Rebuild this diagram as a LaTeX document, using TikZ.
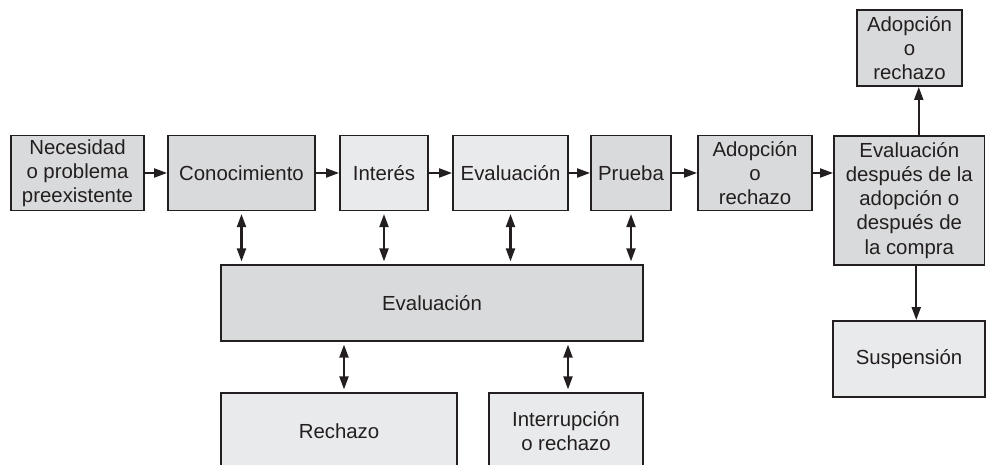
\documentclass[tikz,border=0pt]{standalone}
\usepackage{fontspec}
\setmainfont{Liberation Sans}
\usetikzlibrary{arrows.meta, positioning}
\definecolor{BoxLine}{HTML}{231F20}
\definecolor{BoxDark}{HTML}{D9DADB}
\definecolor{BoxLight}{HTML}{E9EAEB}
\tikzset{
    % Box styles with sharp corners
    component/.style={
        rectangle,
        draw=BoxLine,
        line width=1.1pt,
        text=BoxLine,
        inner sep=0pt,
        minimum height=1.5cm,
        align=center,
        font=\fontsize{11.6}{13.7}\selectfont
    },
    component dark/.style={
        component,
        fill=BoxDark
    },
    component light/.style={
        component,
        fill=BoxLight
    },
    arrow style/.style={
        -{Triangle[length=0.26cm, width=0.18cm]},
        line width=1.15pt,
        BoxLine
    },
    biarrow style/.style={
        {Triangle[length=0.26cm, width=0.18cm]}-{Triangle[length=0.26cm, width=0.18cm]},
        line width=1.15pt,
        shorten <=1.5pt,
        shorten >=1.5pt,
        BoxLine
    }
}
\begin{document}
\begin{tikzpicture}[x=0.02cm, y=-0.02cm]
        \useasboundingbox (0,0) rectangle (986,465);
        \clip (0,0) rectangle (986,465);

        % Top row
        \node[component dark, minimum width=2.66cm] (need) at (77.5,173) {
            Necesidad\\
            o problema\\
            preexistente
        };
        \node[component dark, minimum width=2.94cm] (conoc) at (241.5,173) {Conocimiento};
        \node[component light, minimum width=1.76cm] (interes) at (384,173) {Interés};
        \node[component light, minimum width=2.3cm] (evaltop) at (510.5,173) {Evaluación};
        \node[component dark, minimum width=1.6cm] (prueba) at (631,173) {Prueba};
        \node[component dark, minimum width=2.28cm] (adop) at (755,173) {
            Adopción\\
            o\\
            rechazo
        };
        \node[component dark, minimum width=3.01cm, minimum height=2.58cm] (post) at (909.25,200.5) {
            Evaluación\\
            después de la\\
            adopción o\\
            después de\\
            la compra
        };

        % Right column
        \node[component dark, minimum width=2.1cm, minimum height=1.52cm] (adoptop) at (909.5,48) {
            Adopción\\
            o\\
            rechazo
        };
        \node[component light, minimum width=3.03cm, minimum height=1.52cm] (susp) at (909,359) {Suspensión};

        % Evaluation band and outcomes
        \node[component dark, minimum width=8.44cm, minimum height=1.52cm] (evalbig) at (432,303) {Evaluación};
        \node[component light, minimum width=4.72cm, minimum height=1.54cm] (rechazo) at (339,431.5) {Rechazo};
        \node[component light, minimum width=3.08cm, minimum height=1.54cm] (interr) at (566,431.5) {
            Interrupción\\
            o rechazo
        };

        % Arrows
        \draw[arrow style] (need) -- (conoc);
        \draw[arrow style] (conoc) -- (interes);
        \draw[arrow style] (interes) -- (evaltop);
        \draw[arrow style] (evaltop) -- (prueba);
        \draw[arrow style] (prueba) -- (adop);
        \draw[arrow style] (adop.east) -- (adop.east -| post.west);
        \draw[arrow style] ([xshift=0.19cm]post.north) -- ([xshift=0.19cm]post.north |- adoptop.south);
        \draw[arrow style] ([xshift=0.14cm]post.south) -- ([xshift=0.14cm]post.south |- susp.north);

        \draw[biarrow style] (conoc.south) -- (conoc.south |- evalbig.north);
        \draw[biarrow style] (interes.south) -- (interes.south |- evalbig.north);
        \draw[biarrow style] (evaltop.south) -- (evaltop.south |- evalbig.north);
        \draw[biarrow style] (prueba.south) -- (prueba.south |- evalbig.north);
        \draw[biarrow style] ([xshift=0.1cm]rechazo.north |- evalbig.south) -- ([xshift=0.1cm]rechazo.north);
        \draw[biarrow style] ([xshift=0.04cm]interr.north |- evalbig.south) -- ([xshift=0.04cm]interr.north);
    \end{tikzpicture}
\end{document}
